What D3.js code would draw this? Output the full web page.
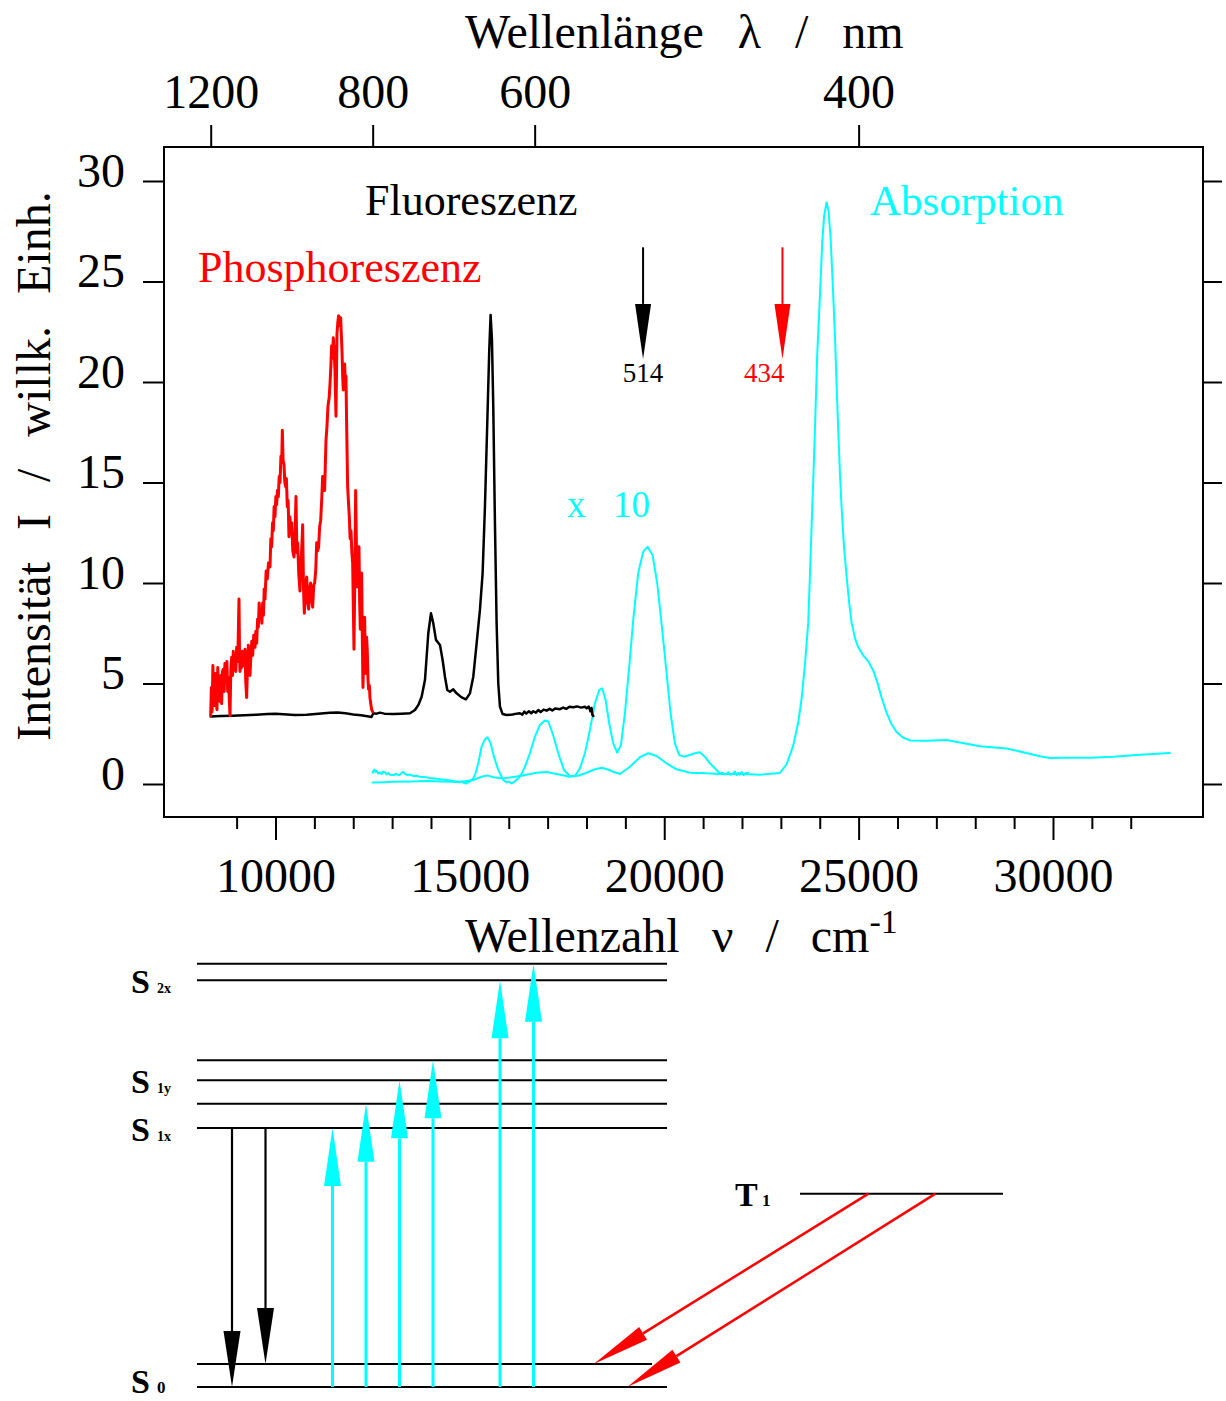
<!DOCTYPE html>
<html><head><meta charset="utf-8">
<script src="https://cdn.jsdelivr.net/npm/d3@7"></script>
<style>body{margin:0;background:#fff}svg{display:block}</style>
</head><body>
<script>
// ---------------- DATA ----------------
const nuMajorTicks = [10000, 15000, 20000, 25000, 30000];
const nuMinorTicks = [9000, 11000, 12000, 13000, 14000, 16000, 17000, 18000, 19000, 21000, 22000, 23000, 24000, 26000, 27000, 28000, 29000, 31000, 32000];
const nmTicks = [1200, 800, 600, 400];
const intensityTicks = [0, 5, 10, 15, 20, 25, 30];

// [wavenumber cm-1, intensity]
const phosphorescence = [[8333,3.4],[8350,4.8],[8370,3.6],[8390,5.9],[8410,4.4],[8430,3.9],[8455,5.5],[8475,4.0],[8495,3.7],[8515,5.8],[8535,4.5],[8555,5.0],[8575,4.1],[8595,5.4],[8615,4.0],[8635,5.6],[8658,5.7],[8680,4.6],[8700,6.0],[8727,5.2],[8750,6.1],[8770,4.6],[8790,5.3],[8810,4.3],[8830,3.4],[8850,5.6],[8873,6.3],[8895,5.4],[8915,6.6],[8933,5.7],[8955,6.4],[8980,5.6],[9001,6.8],[9030,6.1],[9061,9.2],[9075,6.5],[9087,5.6],[9110,6.2],[9130,5.8],[9147,6.6],[9170,5.9],[9190,6.3],[9216,6.7],[9235,5.1],[9258,4.3],[9280,5.8],[9301,6.9],[9320,6.0],[9344,5.4],[9370,6.5],[9390,7.1],[9413,6.4],[9440,7.4],[9473,6.8],[9495,7.6],[9516,7.0],[9540,8.2],[9559,7.8],[9580,9.0],[9601,8.3],[9630,8.6],[9650,8.0],[9670,9.0],[9690,8.4],[9710,9.7],[9730,9.2],[9760,10.6],[9790,10.2],[9820,11.0],[9859,10.8],[9880,12.2],[9901,11.8],[9925,13.0],[9944,12.6],[9965,13.8],[9987,13.3],[10010,14.3],[10030,13.9],[10050,14.6],[10073,14.3],[10095,15.3],[10116,15.0],[10140,16.3],[10160,16.0],[10176,17.6],[10195,16.1],[10219,15.9],[10240,15.0],[10261,14.8],[10280,15.2],[10304,13.8],[10325,14.1],[10347,12.3],[10370,13.3],[10395,12.6],[10416,13.0],[10445,11.6],[10476,11.3],[10500,12.2],[10527,14.3],[10550,11.5],[10570,12.0],[10600,10.4],[10630,9.6],[10660,11.2],[10680,11.9],[10699,12.9],[10720,9.8],[10742,8.5],[10770,9.6],[10802,10.3],[10830,9.0],[10853,8.7],[10880,9.7],[10904,10.0],[10930,9.2],[10956,8.8],[10985,9.9],[11007,10.0],[11035,10.6],[11059,12.0],[11085,11.6],[11110,11.8],[11135,12.8],[11162,13.1],[11190,14.2],[11213,15.3],[11240,14.6],[11264,14.6],[11299,17.1],[11325,17.8],[11350,18.8],[11380,19.2],[11402,19.9],[11425,20.8],[11444,21.8],[11465,21.2],[11487,22.2],[11510,21.5],[11530,20.6],[11556,18.3],[11582,22.4],[11605,23.0],[11625,23.3],[11650,22.8],[11676,23.2],[11695,22.3],[11710,21.6],[11730,20.2],[11745,19.6],[11762,20.5],[11779,20.9],[11795,20.0],[11813,20.3],[11830,17.9],[11856,14.8],[11878,14.0],[11899,13.3],[11920,12.2],[11942,12.6],[11965,11.5],[11985,11.0],[12005,8.5],[12019,6.7],[12040,10.2],[12062,14.6],[12085,11.3],[12105,9.8],[12125,10.8],[12148,11.8],[12165,9.0],[12182,7.7],[12200,9.6],[12216,10.5],[12235,7.0],[12250,4.8],[12272,6.5],[12293,8.3],[12310,6.2],[12328,5.5],[12345,7.3],[12362,6.6],[12380,5.2],[12396,4.7],[12415,4.9],[12430,4.3],[12450,4.0],[12473,3.7],[12499,3.6]];

const fluorescence = [[8333,3.36],[8600,3.38],[8900,3.40],[9200,3.42],[9500,3.45],[9800,3.48],[10000,3.50],[10200,3.47],[10500,3.43],[10800,3.45],[11100,3.50],[11400,3.54],[11600,3.56],[11800,3.52],[12000,3.46],[12200,3.42],[12400,3.36],[12470,3.33],[12516,3.52],[12600,3.50],[12687,3.55],[12800,3.50],[13030,3.48],[13250,3.50],[13459,3.52],[13588,3.68],[13680,3.95],[13759,4.34],[13845,5.17],[13888,6.33],[13931,7.5],[13999,8.49],[14059,8.0],[14128,7.17],[14231,6.92],[14299,6.17],[14359,5.34],[14419,4.68],[14488,4.59],[14573,4.71],[14659,4.51],[14788,4.31],[14899,4.21],[15002,4.51],[15088,5.34],[15174,7.0],[15259,8.66],[15328,10.48],[15388,13.8],[15448,17.98],[15499,21.6],[15534,23.33],[15568,22.1],[15602,18.8],[15645,12.97],[15688,8.0],[15731,5.0],[15774,3.85],[15842,3.48],[15945,3.43],[16100,3.46],[16200,3.50],[16288,3.52],[16350,3.45],[16400,3.60],[16450,3.50],[16520,3.62],[16580,3.52],[16631,3.62],[16700,3.55],[16760,3.68],[16820,3.58],[16900,3.70],[16974,3.65],[17050,3.74],[17120,3.66],[17200,3.76],[17317,3.72],[17400,3.80],[17480,3.74],[17560,3.84],[17660,3.82],[17760,3.86],[17860,3.80],[17960,3.84],[18003,3.77],[18060,3.85],[18100,3.62],[18131,3.78],[18150,3.45],[18174,3.38]];

const absorptionX10 = [[12499,0.56],[12540,0.72],[12570,0.60],[12602,0.66],[12640,0.52],[12687,0.58],[12730,0.50],[12770,0.62],[12816,0.58],[12860,0.48],[12900,0.55],[12950,0.46],[13030,0.45],[13100,0.50],[13180,0.44],[13240,0.54],[13287,0.60],[13330,0.50],[13400,0.45],[13460,0.47],[13545,0.40],[13620,0.41],[13700,0.36],[13800,0.35],[13888,0.33],[13960,0.30],[14050,0.29],[14150,0.26],[14230,0.24],[14316,0.23],[14400,0.20],[14500,0.18],[14600,0.14],[14700,0.12],[14745,0.09],[14800,0.13],[14850,0.05],[14916,0.03],[14960,0.10],[15000,0.12],[15088,0.28],[15150,0.55],[15216,1.03],[15302,1.86],[15388,2.22],[15456,2.32],[15534,2.02],[15619,1.36],[15731,0.70],[15859,0.20],[15950,0.08],[16000,0.12],[16074,0.03],[16150,0.12],[16245,0.28],[16330,0.50],[16417,0.86],[16545,1.53],[16674,2.36],[16802,2.94],[16931,3.16],[17017,3.11],[17128,2.52],[17274,1.53],[17420,0.70],[17574,0.40],[17703,0.40],[17831,0.78],[17960,1.53],[18088,2.69],[18217,4.01],[18328,4.68],[18405,4.76],[18491,4.18],[18585,3.01],[18688,2.02],[18791,1.56],[18886,1.94],[18989,3.52],[19100,5.85],[19203,8.18],[19331,10.5],[19460,11.56],[19571,11.8],[19700,11.39],[19820,9.98],[19931,7.99],[20043,5.85],[20163,3.52],[20274,2.02],[20386,1.44],[20506,1.36],[20660,1.44],[20789,1.53],[20917,1.58],[21046,1.36],[21175,1.03],[21303,0.78],[21432,0.53],[21500,0.56],[21560,0.47],[21603,0.50],[21650,0.58],[21700,0.46],[21775,0.53],[21820,0.62],[21860,0.44],[21900,0.56],[21946,0.46],[21990,0.60],[22040,0.45],[22100,0.55],[22160,0.56]];

const absorption = [[12499,0.07],[12800,0.09],[13030,0.11],[13500,0.13],[13888,0.15],[14300,0.12],[14745,0.10],[15088,0.20],[15302,0.36],[15456,0.43],[15602,0.33],[15859,0.28],[16288,0.40],[16717,0.56],[16974,0.60],[17231,0.50],[17574,0.36],[17800,0.42],[18003,0.56],[18200,0.72],[18388,0.81],[18550,0.72],[18688,0.61],[18860,0.50],[19117,0.86],[19374,1.33],[19588,1.53],[19803,1.39],[20060,1.03],[20317,0.73],[20660,0.56],[21089,0.53],[21432,0.50],[22032,0.50],[22461,0.46],[22976,0.55],[23147,0.97],[23319,1.92],[23447,3.07],[23533,4.23],[23619,5.94],[23705,8.04],[23747,10.35],[23790,12.8],[23833,15.1],[23876,17.6],[23936,21.4],[24005,24.3],[24065,26.99],[24116,28.3],[24176,28.94],[24227,28.5],[24279,27.2],[24330,25.07],[24390,22.4],[24433,19.9],[24476,17.6],[24519,15.5],[24562,13.78],[24622,11.87],[24690,10.35],[24759,9.0],[24819,8.04],[24905,7.27],[24990,6.8],[25119,6.4],[25248,6.1],[25376,5.65],[25462,5.17],[25591,4.31],[25719,3.55],[25848,2.97],[25976,2.59],[26148,2.30],[26319,2.17],[26748,2.15],[27262,2.19],[27605,2.07],[28120,1.88],[28805,1.77],[29320,1.54],[29663,1.38],[29920,1.29],[30263,1.31],[30949,1.31],[31549,1.35],[32235,1.46],[33006,1.54]];

const excitationNm = [514, 434];
const excitationColor = ["#000000", "#ff0000"];

// energy level diagram (cm-1)
const levelNames  = ["S0", "S0v", "T1", "S1x", "S1xa", "S1y", "S1ya", "S2x", "S2xa"];
const levelEnergy = [0, 1380, 11600, 15540, 17000, 18400, 19600, 24400, 25400];
const levelLabel  = ["S", "", "T", "S", "", "S", "", "S", ""];
const levelSub    = ["0", "", "1", "1x", "", "1y", "", "2x", ""];

const transFrom     = ["S1x", "S1x", "S0", "S0", "S0", "S0", "S0", "S0", "T1", "T1"];
const transTo       = ["S0", "S0v", "S1x", "S1xa", "S1y", "S1ya", "S2x", "S2xa", "S0v", "S0"];
const transSlotFrom = [0, 1, 3, 4, 5, 6, 8, 9, 19, 21];
const transSlotTo   = [0, 1, 3, 4, 5, 6, 8, 9, 10.8, 11.8];
const transKind     = ["fluo", "fluo", "abs", "abs", "abs", "abs", "abs", "abs", "phos", "phos"];

// ---------------- DRAWING ----------------
const W = 1226, H = 1401;
const FONT = "'Liberation Serif','Times New Roman',Times,serif";
const svg = d3.select("body").append("svg").attr("width", W).attr("height", H)
  .style("font-family", FONT);

const L = 164, R = 1203, T = 147, B = 817;
const x = d3.scaleLinear().domain([7132, 33859]).range([L, R]);
const y = d3.scaleLinear().domain([0, 30]).range([784, 181]);

function styleAxis(g, fs) {
  g.attr("font-family", FONT).attr("font-size", fs);
  g.select(".domain").remove();
  g.selectAll(".tick line").attr("stroke", "#000").attr("stroke-width", 2);
  g.selectAll(".tick text").attr("fill", "#000");
}

// bottom minor ticks
const gMin = svg.append("g").attr("transform", `translate(0,${B})`)
  .call(d3.axisBottom(x).tickValues(nuMinorTicks).tickSize(12).tickFormat(""));
styleAxis(gMin, 10);
// bottom major
const gBot = svg.append("g").attr("transform", `translate(0,${B})`)
  .call(d3.axisBottom(x).tickValues(nuMajorTicks).tickSize(23).tickFormat(d3.format("d")));
styleAxis(gBot, 48);
gBot.selectAll(".tick text").attr("y", 75).attr("dy", 0);

// top (wavelength) axis
const gTop = svg.append("g").attr("transform", `translate(0,${T})`)
  .call(d3.axisTop(x).tickValues(nmTicks.map(n => 1e7 / n)).tickSize(22)
    .tickFormat((d, i) => nmTicks[i]));
styleAxis(gTop, 48);
gTop.selectAll(".tick text").attr("y", -39).attr("dy", 0);

// left axis
const gL = svg.append("g").attr("transform", `translate(${L},0)`)
  .call(d3.axisLeft(y).tickValues(intensityTicks).tickSize(21));
styleAxis(gL, 48);
gL.selectAll(".tick text").attr("x", -39).attr("dy", 5);

// right axis
const gR = svg.append("g").attr("transform", `translate(${R},0)`)
  .call(d3.axisRight(y).tickValues(intensityTicks).tickSize(19).tickFormat(""));
styleAxis(gR, 10);

// frame
svg.append("rect").attr("x", L).attr("y", T).attr("width", R - L).attr("height", B - T)
  .attr("fill", "none").attr("stroke", "#000").attr("stroke-width", 2);

// curves
const line = d3.line().x(d => x(d[0])).y(d => y(d[1]));
const curves = [
  [absorption, "#00ffff", 2],
  [absorptionX10, "#00ffff", 2],
  [fluorescence, "#000000", 2.5],
  [phosphorescence, "#ff0000", 3]
];
curves.forEach(([data, col, w]) => {
  svg.append("path").datum(data).attr("d", line).attr("fill", "none")
    .attr("stroke", col).attr("stroke-width", w)
    .attr("stroke-linejoin", "round").attr("stroke-linecap", "round");
});

// arrow helper
function arrow(g, x1, y1, x2, y2, col, sw, hl, hw) {
  const dx = x2 - x1, dy = y2 - y1, len = Math.hypot(dx, dy);
  const ux = dx / len, uy = dy / len;
  const bx = x2 - ux * hl, by = y2 - uy * hl;
  g.append("line").attr("x1", x1).attr("y1", y1).attr("x2", bx).attr("y2", by)
    .attr("stroke", col).attr("stroke-width", sw);
  g.append("path").attr("d", `M${x2},${y2}L${bx - uy * hw},${by + ux * hw}L${bx + uy * hw},${by - ux * hw}Z`)
    .attr("fill", col);
}

// excitation arrows in spectrum
excitationNm.forEach((nm, i) => {
  const xx = x(1e7 / nm);
  arrow(svg, xx, y(26.7), xx, y(21.15), excitationColor[i], 2, 55, 8);
  svg.append("text").attr("x", i === 0 ? xx : xx + 2).attr("y", y(20.0))
    .attr("text-anchor", i === 0 ? "middle" : "end")
    .attr("font-size", 27).attr("fill", excitationColor[i]).text(nm);
});

// annotations
svg.append("text").attr("x", 365).attr("y", 215).attr("font-size", 44).attr("fill", "#000").text("Fluoreszenz");
svg.append("text").attr("x", 198).attr("y", 282).attr("font-size", 44).attr("fill", "#ff0000").text("Phosphoreszenz");
svg.append("text").attr("x", 870).attr("y", 215).attr("font-size", 43).attr("fill", "#00ffff").text("Absorption");
const tx10 = svg.append("text").attr("y", 517).attr("font-size", 37).attr("fill", "#00ffff");
tx10.append("tspan").attr("x", 567).text("x");
tx10.append("tspan").attr("x", 613).text("10");

// axis titles
svg.append("text").attr("x", 465).attr("y", 48).attr("font-size", 48).attr("word-spacing", 22)
  .text("Wellenlänge λ / nm");
const bt = svg.append("text").attr("x", 465).attr("y", 952).attr("font-size", 48).attr("word-spacing", 20);
bt.append("tspan").text("Wellenzahl ν / cm");
bt.append("tspan").attr("font-size", 34).attr("dy", -19).attr("word-spacing", 0).text("-1");
svg.append("text").attr("transform", "translate(50,466) rotate(-90)").attr("text-anchor", "middle")
  .attr("font-size", 48).attr("word-spacing", 20).text("Intensität I / willk. Einh.");

// ---------------- energy level diagram ----------------
const yE = d3.scaleLinear().domain([0, 15540]).range([1387, 1128]);
const xs = d3.scaleLinear().domain([0, 1]).range([232, 265.5]);
const E = {};
levelNames.forEach((n, i) => E[n] = levelEnergy[i]);

const gD = svg.append("g");
levelNames.forEach((n, i) => {
  let x1 = 197, x2 = 667;
  if (n === "T1") { x1 = 800; x2 = 1003; }
  if (n === "S0v") { x2 = 652; }
  const yy = yE(levelEnergy[i]);
  gD.append("line").attr("x1", x1).attr("x2", x2).attr("y1", yy).attr("y2", yy)
    .attr("stroke", "#000").attr("stroke-width", 2);
  if (levelLabel[i]) {
    const lx = n === "T1" ? 735 : 131;
    const by = n === "S0" ? Math.min(yy + 12.5, H - 8) : yy + 12.5;
    const t = gD.append("text").attr("x", lx).attr("y", by).attr("font-weight", "bold").attr("fill", "#000");
    t.append("tspan").attr("font-size", 34).text(levelLabel[i]);
    t.append("tspan").attr("x", lx + (n === "T1" ? 27 : 26)).attr("font-size", n === "T1" || n === "S0" ? 17 : 14).text(levelSub[i]);
  }
});

const kindStyle = {
  fluo: { col: "#000000", sw: 2.2, hl: 56, hw: 8.5 },
  abs:  { col: "#00ffff", sw: 3, hl: 58, hw: 8.5 },
  phos: { col: "#ff0000", sw: 2.5, hl: 58, hw: 7.5 }
};
transFrom.forEach((f, i) => {
  const s = kindStyle[transKind[i]];
  arrow(gD, xs(transSlotFrom[i]), yE(E[f]), xs(transSlotTo[i]), yE(E[transTo[i]]), s.col, s.sw, s.hl, s.hw);
});
</script>
</body></html>
